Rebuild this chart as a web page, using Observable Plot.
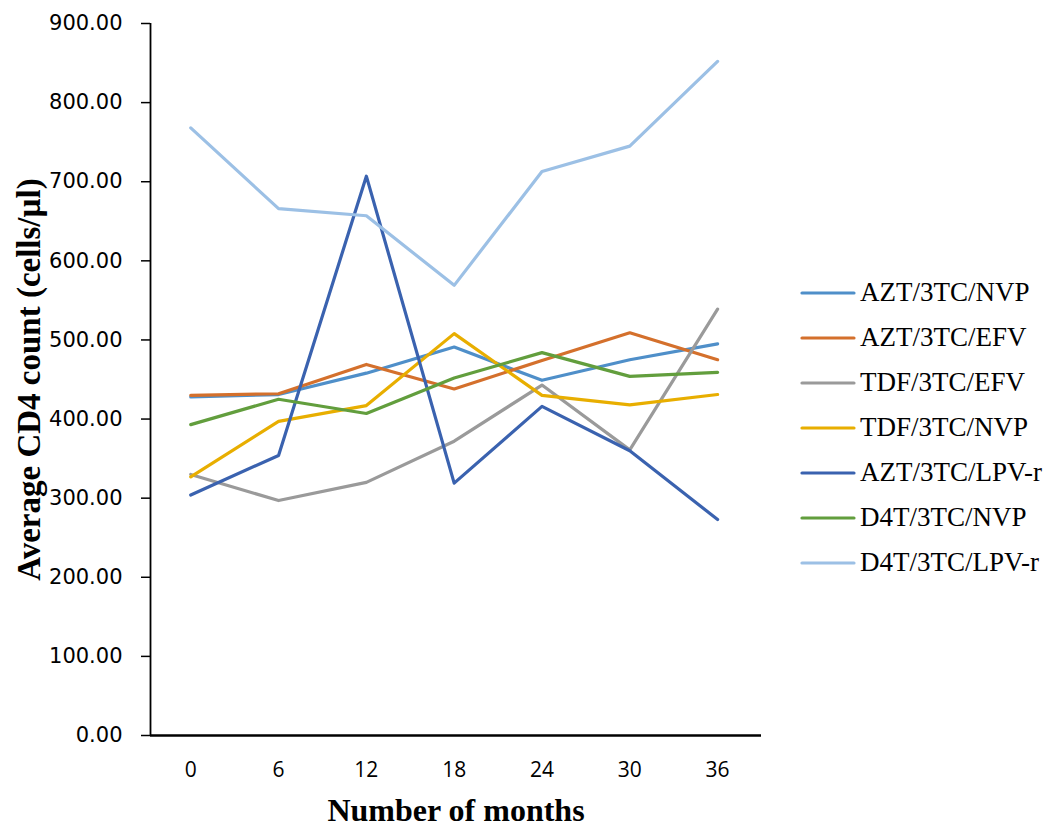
<!DOCTYPE html>
<html>
<head>
<meta charset="utf-8">
<script src="https://cdn.jsdelivr.net/npm/d3@7"></script>
<script src="https://cdn.jsdelivr.net/npm/@observablehq/plot@0.6"></script>
<style>
  html, body { margin: 0; padding: 0; background: #fff; }
  #wrap { position: relative; width: 1046px; height: 826px; }
  #legend { position: absolute; left: 800px; top: 270px; font-family: "Liberation Serif", "Times New Roman", serif; font-size: 27px; color: #000; }
  .item { height: 45px; display: flex; align-items: center; white-space: nowrap; }
  .item svg { margin-right: 4px; }
</style>
</head>
<body>
<div id="wrap"><div id="chart"></div><div id="legend"></div></div>
<script>
const months = [0, 6, 12, 18, 24, 30, 36];
const seriesNames = ["AZT/3TC/NVP", "AZT/3TC/EFV", "TDF/3TC/EFV", "TDF/3TC/NVP", "AZT/3TC/LPV-r", "D4T/3TC/NVP", "D4T/3TC/LPV-r"];
const aztNvp   = [428, 431, 458, 491, 449, 475, 495];
const aztEfv   = [430, 432, 469, 438, 474, 509, 475];
const tdfEfv   = [330, 297, 320, 372, 443, 361, 539];
const tdfNvp   = [327, 397, 417, 508, 430, 418, 431];
const aztLpv   = [304, 354, 707, 319, 416, 360, 273];
const d4tNvp   = [393, 425, 407, 452, 484, 454, 459];
const d4tLpv   = [768, 666, 657, 569, 713, 745, 852];
const yTicks = [0, 100, 200, 300, 400, 500, 600, 700, 800, 900];
const colors = ["#4F8FC9", "#D4702C", "#9A9A9A", "#E8AE00", "#3A62AF", "#629E3D", "#9CC0E5"];

const allSeries = [aztNvp, aztEfv, tdfEfv, tdfNvp, aztLpv, d4tNvp, d4tLpv];
const rows = [];
allSeries.forEach((vals, i) => vals.forEach((v, j) => rows.push({series: seriesNames[i], month: months[j], value: v})));

const chart = Plot.plot({
  width: 1046,
  height: 826,
  marginLeft: 150,
  marginRight: 285,
  marginTop: 23,
  marginBottom: 91,
  style: {background: "#fff", overflow: "visible"},
  x: {domain: [-2.75, 39], ticks: months, label: null},
  y: {domain: [0, 900], ticks: yTicks, label: null},
  color: {domain: seriesNames, range: colors},
  marks: [
    Plot.axisY(yTicks, {tickSize: 9, tickPadding: 19, tickFormat: d => d.toFixed(2), fontSize: 21, fontFamily: "DejaVu Sans", label: null, stroke: "#000", strokeWidth: 1.5, fill: "#000"}),
    Plot.axisX(months, {tickSize: 0, tickPadding: 27, fontSize: 21, fontFamily: "Open Sans", label: null, fill: "#000"}),
    Plot.ruleX([-2.75], {stroke: "#000", strokeWidth: 1.8}),
    Plot.ruleY([0], {stroke: "#000", strokeWidth: 2.5}),
    Plot.line(rows, {x: "month", y: "value", z: "series", stroke: "series", strokeWidth: 3.2, strokeLinejoin: "round", strokeLinecap: "round"}),
    Plot.text(["Average CD4 count (cells/µl)"], {frameAnchor: "left", textAnchor: "middle", dx: -121, rotate: -90, fontSize: 33, fontWeight: "bold", fontFamily: "Liberation Serif", fill: "#000"}),
    Plot.text(["Number of months"], {frameAnchor: "bottom", dy: 85, fontSize: 32, fontWeight: "bold", fontFamily: "Liberation Serif", fill: "#000"})
  ]
});
document.getElementById("chart").appendChild(chart);

const legend = document.getElementById("legend");
seriesNames.forEach((name, i) => {
  const item = document.createElement("div");
  item.className = "item";
  item.innerHTML = `<svg width="56" height="10"><line x1="2" y1="5" x2="54" y2="5" stroke="${colors[i]}" stroke-width="3.2" stroke-linecap="round"/></svg><span>${name}</span>`;
  legend.appendChild(item);
});
</script>
</body>
</html>
